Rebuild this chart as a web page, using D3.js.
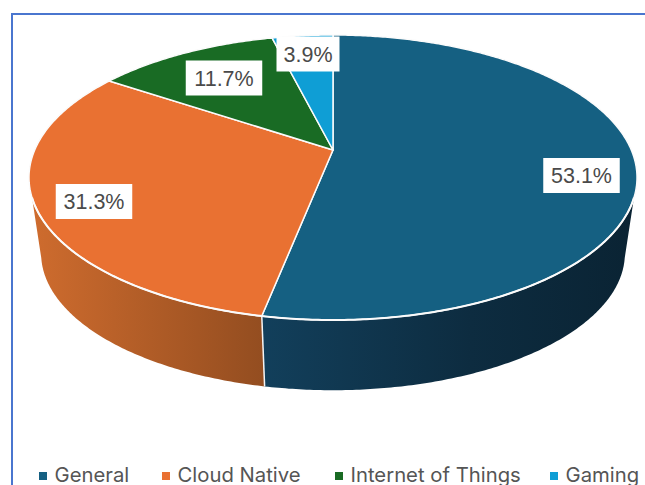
<!DOCTYPE html>
<html>
<head>
<meta charset="utf-8">
<script src="https://cdnjs.cloudflare.com/ajax/libs/d3/7.8.5/d3.min.js"></script>
<style>
html,body{margin:0;padding:0;background:#fff;overflow:hidden}
svg{display:block}
</style>
</head>
<body>
<svg id="chart" width="645" height="485"></svg>
<script>
// Workload share by segment
const categories = ["General", "Cloud Native", "Internet of Things", "Gaming"];
const shares = [53.1, 31.3, 11.7, 3.9];
const labels = ["53.1%", "31.3%", "11.7%", "3.9%"];
const topColors = ["#156082", "#E97132", "#196B24", "#0F9ED5"];

const svg = d3.select("#chart");
const defs = svg.append("defs");

// Perspective of the tilted disc: k is the foreshortening, lowerDisc is the base.
const k = 0.193;
const upperDisc = {cx: 333, cy: 150, a: 298.3, b: 137.2};
const lowerDisc = {cx: 333, cy: 227, a: 286.4, b: 131.7};
const rad = d3.scaleLinear().domain([0, 360]).range([0, 2 * Math.PI]);
const project = (disc, angle) => {
  const u = Math.sin(angle), v = -Math.cos(angle), w = 1 - k * v;
  return [disc.cx + disc.a * u / w, disc.cy + disc.b * v / w];
};
const arcPoints = (disc, a0, a1) => {
  const n = Math.max(2, Math.ceil(Math.abs(a1 - a0) / 0.01));
  return d3.range(n + 1).map(i => project(disc, a0 + (a1 - a0) * i / n));
};
const line = d3.line();

const slices = d3.pie().sort(null).value(d => d)(shares);

// Side wall gradients
const sideStops = [
  {id: "side-general", x1: 263, x2: 640, stops: [["0", "#123f5b"], ["0.55", "#0d2c40"], ["1", "#0a2333"]]},
  {id: "side-cloud", x1: 30, x2: 265, stops: [["0", "#cf6c2e"], ["1", "#934d20"]]}
];
sideStops.forEach(g => {
  const lg = defs.append("linearGradient").attr("id", g.id)
    .attr("gradientUnits", "userSpaceOnUse")
    .attr("x1", g.x1).attr("x2", g.x2).attr("y1", 0).attr("y2", 0);
  g.stops.forEach(s => lg.append("stop").attr("offset", s[0]).attr("stop-color", s[1]));
});

// Frame
svg.append("path").attr("d", "M12,485V14H645")
  .attr("fill", "none").attr("stroke", "#4a76cf").attr("stroke-width", 2);

// Side walls: the upper and lower edges leave the silhouette at different angles
const silhouette = {upperRight: rad(109), lowerRight: rad(103), upperLeft: rad(251), lowerLeft: rad(257)};
const split = slices[0].endAngle;
const wall = (u0, u1, l0, l1, fill) => {
  const pts = arcPoints(upperDisc, u0, u1).concat(arcPoints(lowerDisc, l1, l0));
  svg.append("path").attr("d", line(pts) + "Z").attr("fill", fill);
};
wall(silhouette.upperRight, split, silhouette.lowerRight, split, "url(#side-general)");
wall(split, silhouette.upperLeft, split, silhouette.lowerLeft, "url(#side-cloud)");

// Divider on the front wall
svg.append("path")
  .attr("d", line([project(upperDisc, split), project(lowerDisc, split)]))
  .attr("stroke", "#f4f4f4").attr("stroke-width", 1.5);

// Top faces
const apex = [upperDisc.cx, upperDisc.cy];
svg.selectAll("path.face").data(slices).join("path").attr("class", "face")
  .attr("d", d => line([apex].concat(arcPoints(upperDisc, d.startAngle, d.endAngle))) + "Z")
  .attr("fill", (d, i) => topColors[i])
  .attr("stroke", "#fbfbfb").attr("stroke-width", 1.5).attr("stroke-linejoin", "round");

// Brighter highlight along the front rim
svg.append("path")
  .attr("d", line(arcPoints(upperDisc, silhouette.upperRight, silhouette.upperLeft)))
  .attr("fill", "none").attr("stroke", "#fbfbfb").attr("stroke-width", 2);

// Value labels on white plates
const labelAnchor = [[248.5, 25.5], [-239, 51.5], [-109, -72], [-25, -96]];
const plateW = [76.5, 76.5, 76.5, 63];
const plate = svg.selectAll("g.value").data(labels).join("g").attr("class", "value")
  .attr("transform", (d, i) => `translate(${upperDisc.cx + labelAnchor[i][0]},${upperDisc.cy + labelAnchor[i][1]})`);
plate.append("rect")
  .attr("x", (d, i) => -plateW[i] / 2).attr("y", -17.5)
  .attr("width", (d, i) => plateW[i]).attr("height", 35)
  .attr("fill", "#fff");
plate.append("text").text(d => d)
  .attr("text-anchor", "middle").attr("y", 7.5)
  .attr("font-family", "'Liberation Sans', Arial, sans-serif")
  .attr("font-size", 21.5).attr("fill", "#4a4a4a");

// Legend
const legendX = [39, 162, 335, 550];
const legend = svg.selectAll("g.key").data(categories).join("g").attr("class", "key")
  .attr("transform", (d, i) => `translate(${legendX[i]},476)`);
legend.append("rect").attr("x", 0).attr("y", -4).attr("width", 8).attr("height", 8)
  .attr("fill", (d, i) => topColors[i]);
legend.append("text").text(d => d)
  .attr("x", 15.5).attr("y", 5.5)
  .attr("font-family", "Inter, 'Open Sans', sans-serif")
  .attr("font-size", 20.3).attr("fill", "#555");
</script>
</body>
</html>
